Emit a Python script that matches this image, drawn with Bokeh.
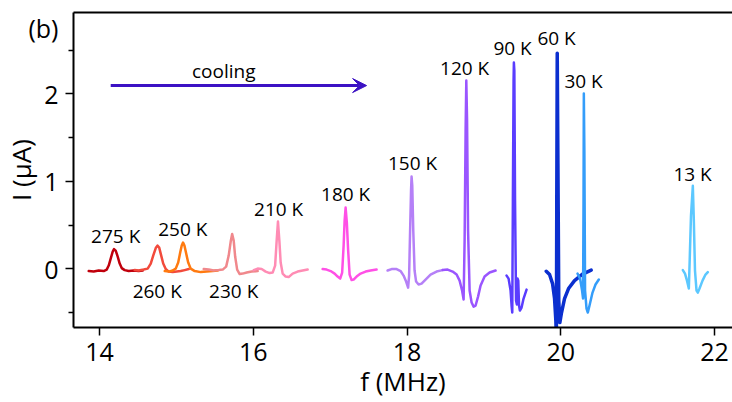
from bokeh.plotting import figure
from bokeh.models import (ColumnDataSource, SingleIntervalTicker, LinearAxis,
                          FixedTicker, Label, Arrow, VeeHead, CustomJSTickFormatter)
from bokeh.core.properties import value
from bokeh.embed import file_html
from bokeh.resources import INLINE

# ---------------- data ----------------
temps = ["275 K", "260 K", "250 K", "230 K", "210 K", "180 K",
         "150 K", "120 K", "90 K", "60 K", "30 K", "13 K"]
colors = ["#c0000c", "#f24a3c", "#ff7a10", "#f0888c", "#ff8cb4", "#ff50e6",
          "#b580f7", "#9a55ff", "#5a3dff", "#0b2fcf", "#349dfa", "#5cc8ff"]
widths = [2.5, 2.5, 2.5, 2.5, 2.5, 2.5, 2.5, 2.5, 2.5, 3.5, 2.5, 2.5]

f_275 = [13.858, 13.923, 13.988, 14.053, 14.092, 14.118, 14.144, 14.170, 14.187,
         14.209, 14.235, 14.261, 14.287, 14.326, 14.378, 14.443, 14.508, 14.560]
i_275 = [-0.025, -0.031, -0.019, -0.025, -0.008, 0.038, 0.118, 0.198, 0.226,
         0.209, 0.141, 0.061, 0.009, -0.014, -0.025, -0.019, -0.025, -0.019]

f_260 = [14.456, 14.508, 14.573, 14.625, 14.665, 14.697, 14.730, 14.752, 14.775,
         14.801, 14.827, 14.860, 14.899, 14.951, 15.003, 15.055, 15.107, 15.159]
i_260 = [-0.014, -0.019, -0.008, 0.003, 0.061, 0.152, 0.238, 0.266, 0.243,
         0.152, 0.061, -0.002, -0.031, -0.037, -0.031, -0.025, -0.014, -0.002]

f_250 = [14.847, 14.899, 14.951, 14.990, 15.022, 15.048, 15.068, 15.085, 15.103,
         15.126, 15.152, 15.185, 15.237, 15.315, 15.393, 15.471, 15.536]
i_250 = [-0.025, -0.031, -0.019, 0.003, 0.072, 0.186, 0.266, 0.301, 0.266,
         0.175, 0.072, 0.003, -0.025, -0.037, -0.031, -0.025, -0.019]

f_230 = [15.354, 15.419, 15.484, 15.549, 15.601, 15.646, 15.679, 15.705, 15.724,
         15.744, 15.763, 15.789, 15.822, 15.861, 15.913, 15.978, 16.056]
i_230 = [-0.002, -0.008, -0.019, -0.014, -0.008, 0.026, 0.152, 0.312, 0.398,
         0.323, 0.141, -0.008, -0.059, -0.054, -0.042, -0.031, -0.025]

f_210 = [16.004, 16.056, 16.108, 16.160, 16.212, 16.251, 16.283, 16.303, 16.320,
         16.338, 16.355, 16.381, 16.420, 16.459, 16.511, 16.576, 16.641, 16.706]
i_210 = [-0.014, 0.003, -0.002, -0.031, -0.048, -0.042, 0.038, 0.323, 0.541,
         0.323, 0.072, -0.054, -0.088, -0.094, -0.054, -0.031, -0.019, -0.008]

f_180 = [16.901, 16.953, 17.005, 17.057, 17.096, 17.129, 17.155, 17.174, 17.187,
         17.200, 17.216, 17.233, 17.252, 17.278, 17.304, 17.343, 17.395, 17.460,
         17.525, 17.603]
i_180 = [-0.002, -0.008, -0.025, -0.054, -0.088, -0.111, -0.042, 0.266, 0.552,
         0.701, 0.529, 0.209, -0.065, -0.128, -0.122, -0.088, -0.054, -0.031,
         -0.019, -0.008]

f_150 = [17.746, 17.798, 17.863, 17.915, 17.954, 17.987, 18.013, 18.026, 18.039,
         18.051, 18.058, 18.067, 18.080, 18.097, 18.117, 18.149, 18.188, 18.240,
         18.305, 18.383, 18.461]
i_150 = [-0.019, -0.002, -0.002, -0.025, -0.077, -0.145, -0.214, -0.077, 0.438,
         0.895, 1.055, 0.952, 0.438, -0.019, -0.145, -0.179, -0.168, -0.122,
         -0.065, -0.031, -0.014]

f_120 = [18.462, 18.527, 18.592, 18.644, 18.683, 18.715, 18.735, 18.748, 18.761,
         18.770, 18.780, 18.793, 18.813, 18.839, 18.865, 18.891, 18.923, 18.956,
         19.008, 19.073, 19.151]
i_120 = [-0.014, -0.008, -0.031, -0.065, -0.134, -0.248, -0.351, 0.323, 1.581,
         2.152, 1.695, 0.438, -0.248, -0.385, -0.431, -0.419, -0.317, -0.191,
         -0.088, -0.042, -0.019]

f_90 = [19.294, 19.320, 19.346, 19.359, 19.368, 19.376, 19.385, 19.389, 19.395,
        19.404, 19.417, 19.428, 19.437, 19.446, 19.456, 19.467, 19.489, 19.515,
        19.554]
i_90 = [-0.077, -0.111, -0.248, -0.419, -0.499, 0.781, 2.152, 2.358, 2.266,
        0.781, -0.362, -0.408, -0.111, -0.134, -0.419, -0.477, -0.442, -0.339,
        -0.237]

f_60 = [19.810, 19.853, 19.892, 19.918, 19.935, 19.942, 19.947, 19.953, 19.962,
        19.973, 19.987, 20.009, 20.048, 20.100, 20.178, 20.282, 20.395]
i_60 = [-0.027, -0.065, -0.168, -0.339, -0.591, -0.800, 0.800, 2.464, 1.200,
        -0.362, -0.614, -0.499, -0.339, -0.225, -0.134, -0.059, -0.014]

f_30 = [20.217, 20.250, 20.276, 20.289, 20.295, 20.299, 20.306, 20.315, 20.334,
        20.351, 20.373, 20.412, 20.451, 20.494]
i_30 = [-0.054, -0.111, -0.248, -0.339, 0.781, 2.003, 1.352, -0.248, -0.454,
        -0.499, -0.419, -0.271, -0.179, -0.122]

f_13 = [21.587, 21.615, 21.641, 21.665, 21.676, 21.693, 21.717, 21.730, 21.745,
        21.765, 21.782, 21.804, 21.843, 21.882, 21.912]
i_13 = [-0.014, -0.054, -0.134, -0.225, 0.095, 0.609, 0.949, 0.552, -0.019,
        -0.248, -0.271, -0.225, -0.134, -0.065, -0.037]

freqs = [f_275, f_260, f_250, f_230, f_210, f_180, f_150, f_120, f_90, f_60, f_30, f_13]
currents = [i_275, i_260, i_250, i_230, i_210, i_180, i_150, i_120, i_90, i_60, i_30, i_13]

# temperature label anchors (centre) in data units
label_x = [14.209, 14.749, 15.081, 15.744, 16.329, 17.200,
           18.071, 18.748, 19.372, 19.944, 20.295, 21.713]
label_y = [0.381, -0.248, 0.461, -0.248, 0.689, 0.861,
           1.215, 2.301, 2.529, 2.643, 2.152, 1.089]

y_major = [0, 1, 2]
y_minor = [-0.5, 0.5, 1.5, 2.5]
panel_tag = "(b)"
panel_tag_y = 2.75

FONT = "Open Sans"

# ---------------- figure ----------------
p = figure(width=732, height=402, x_range=(13.66, 22.233), y_range=(-0.67, 2.93),
           output_backend="svg", toolbar_location=None,
           x_axis_type=None, y_axis_type=None,
           min_border_left=73, min_border_right=0, min_border_top=12,
           min_border_bottom=75)
p.outline_line_color = None
p.background_fill_color = "white"
p.border_fill_color = "white"

# bottom axis
xaxis = LinearAxis(ticker=SingleIntervalTicker(interval=2, num_minor_ticks=0))
xaxis.axis_line_width = 2
xaxis.axis_line_color = "black"
xaxis.major_tick_line_color = "black"
xaxis.major_tick_line_width = 1.5
xaxis.major_tick_in = 0
xaxis.major_tick_out = 8
xaxis.minor_tick_line_color = None
xaxis.minor_tick_out = 0
xaxis.minor_tick_in = 0
xaxis.major_label_text_font = FONT
xaxis.major_label_text_font_size = "25px"
xaxis.major_label_text_color = "black"
xaxis.major_label_standoff = 7
xaxis.axis_label = "f (MHz)"
xaxis.axis_label_text_font = FONT
xaxis.axis_label_text_font_size = "26px"
xaxis.axis_label_text_font_style = "normal"
xaxis.axis_label_text_color = "black"
xaxis.axis_label_standoff = -1
p.add_layout(xaxis, "below")

# inner left axis: frame line + short (minor) tick marks
yline = LinearAxis(ticker=FixedTicker(ticks=[], minor_ticks=y_minor))
yline.axis_line_color = "black"
yline.axis_line_width = 2
yline.major_tick_line_color = None
yline.major_tick_in = 0
yline.major_tick_out = 0
yline.minor_tick_in = 0
yline.minor_tick_out = 5
yline.minor_tick_line_color = "black"
yline.minor_tick_line_width = 1.5
yline.major_label_standoff = 0
p.add_layout(yline, "left")

# outer left axis: long tick marks (reaching back to the frame), numbers,
# panel tag and axis title
ylab = LinearAxis(ticker=FixedTicker(ticks=y_major + [panel_tag_y], minor_ticks=y_major),
                  formatter=CustomJSTickFormatter(
                      code="return tick > 2.5 ? '%s' : tick.toFixed(0);" % panel_tag))
ylab.axis_line_color = None
ylab.major_tick_line_color = None
ylab.major_tick_in = 0
ylab.major_tick_out = 0
ylab.minor_tick_line_color = "black"
ylab.minor_tick_line_width = 1.5
ylab.minor_tick_in = 5
ylab.minor_tick_out = 3
ylab.major_label_standoff = 7
ylab.major_label_text_font = FONT
ylab.major_label_text_font_size = "25px"
ylab.major_label_text_color = "black"
ylab.axis_label = "I (\u00b5A)"
ylab.axis_label_text_font = FONT
ylab.axis_label_text_font_size = "26px"
ylab.axis_label_text_font_style = "normal"
ylab.axis_label_text_color = "black"
ylab.axis_label_standoff = -14
p.add_layout(ylab, "left")

# top frame line
top = LinearAxis(ticker=FixedTicker(ticks=[]))
top.axis_line_width = 2
top.axis_line_color = "black"
top.major_tick_out = 0
top.major_tick_in = 0
top.minor_tick_out = 0
top.minor_tick_in = 0
top.major_label_standoff = 0
p.add_layout(top, "above")

for f, i, c, w in zip(freqs, currents, colors, widths):
    p.line(f, i, line_color=c, line_width=w, line_join="round", line_cap="round")

src = ColumnDataSource(dict(x=label_x, y=label_y, t=temps))
p.text(x="x", y="y", text="t", source=src, text_font=value(FONT),
       text_font_size=value("19px"), text_align="center",
       text_baseline="middle", text_color="black")

arrow_color = "#3c12c4"
p.add_layout(Arrow(end=VeeHead(size=14, fill_color=arrow_color, line_color=arrow_color),
                   x_start=14.144, y_start=2.095, x_end=17.473, y_end=2.095,
                   line_color=arrow_color, line_width=3))
p.add_layout(Label(x=15.614, y=2.266, text="cooling", text_font=FONT,
                   text_font_size="19px", text_align="center",
                   text_baseline="middle", text_color="black"))

open("out.html", "w").write(file_html(p, INLINE))
